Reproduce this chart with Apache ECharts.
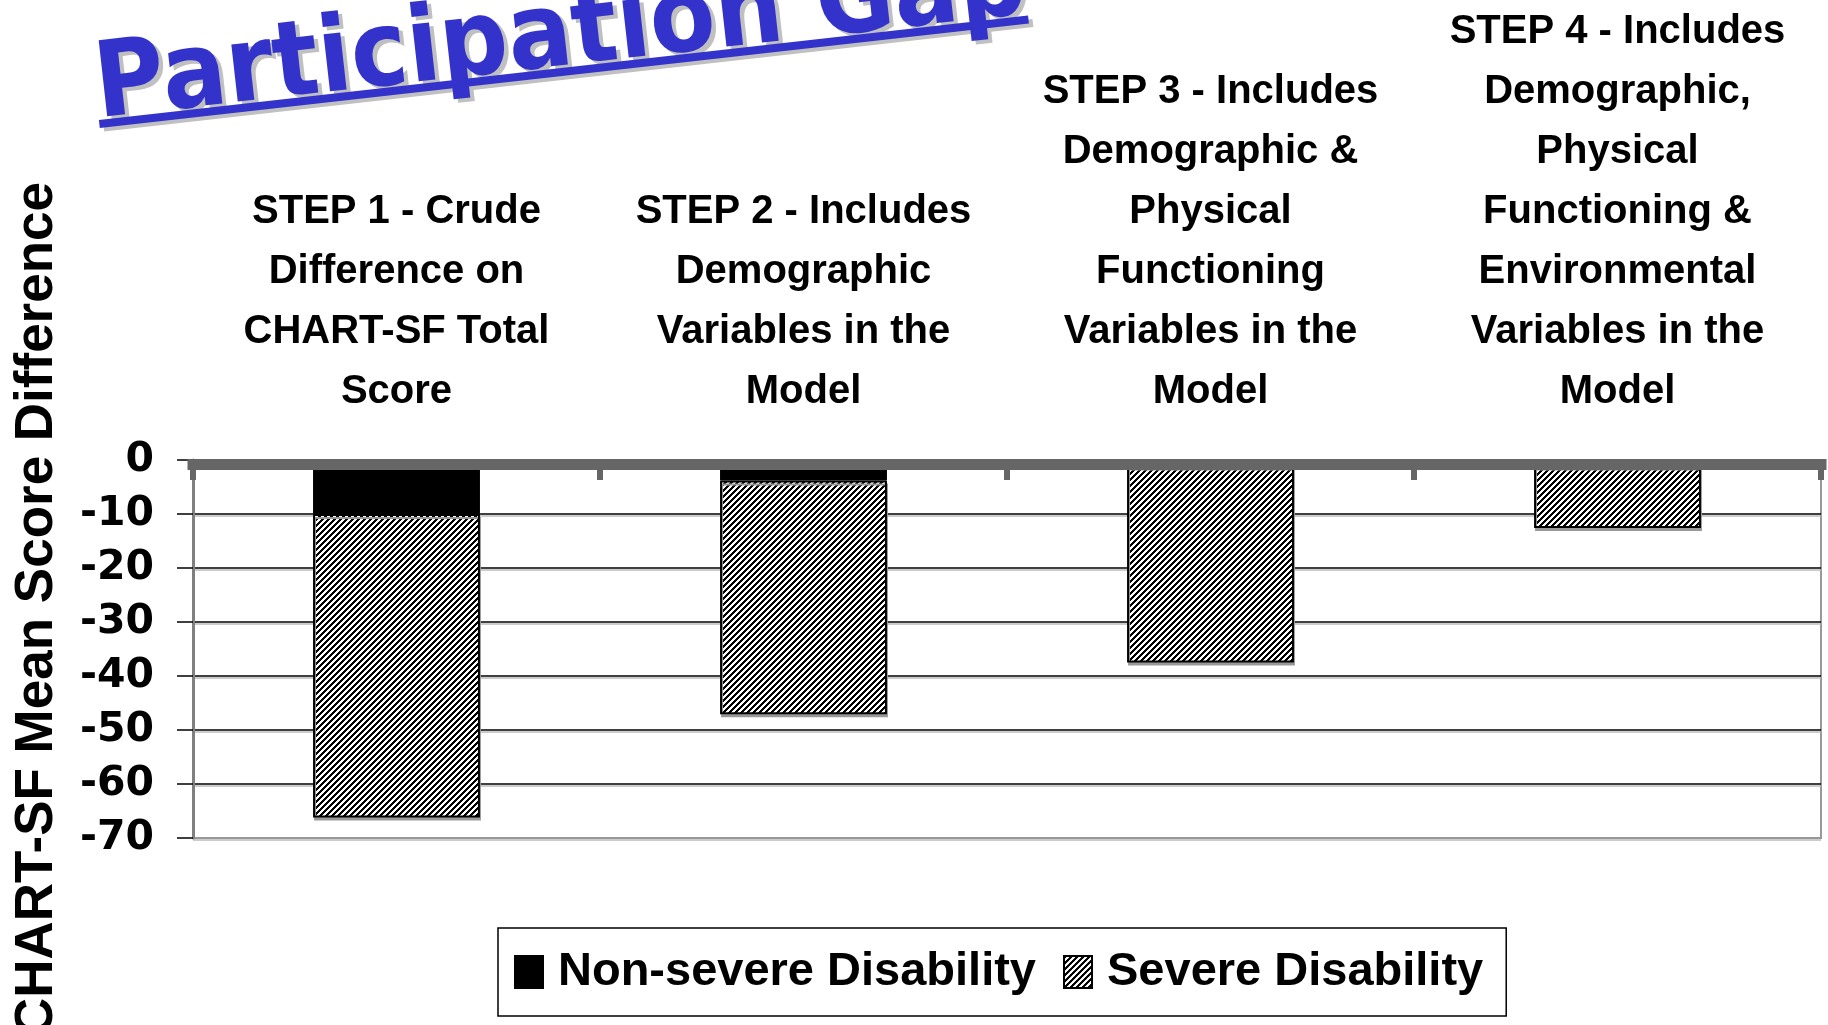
<!DOCTYPE html>
<html>
<head>
<meta charset="utf-8">
<title>Participation Gap</title>
<script src="https://cdn.jsdelivr.net/npm/echarts@6/dist/echarts.min.js"></script>
<style>
  html, body { margin: 0; padding: 0; background: #fff; }
  #chart { width: 1828px; height: 1025px; }
</style>
</head>
<body>
<div id="chart"></div>
<script>
// data
var categories = [
  'STEP 1 - Crude\nDifference on\nCHART-SF Total\nScore',
  'STEP 2 - Includes\nDemographic\nVariables in the\nModel',
  'STEP 3 - Includes\nDemographic &\nPhysical\nFunctioning\nVariables in the\nModel',
  'STEP 4 - Includes\nDemographic,\nPhysical\nFunctioning &\nEnvironmental\nVariables in the\nModel'
];
var nonSevere = [-10, -3.8, -1, -1];
var severe = [-56.2, -43.3, -36.5, -11.6];
var yMin = -70, yMax = 0, yStep = 10;

var arial = '"Liberation Sans", Arial, sans-serif';

// diagonal hatch like the old excel fill
function makeHatch() {
  var n = 6;
  var c = document.createElement('canvas');
  c.width = n; c.height = n;
  var ctx = c.getContext('2d');
  ctx.fillStyle = '#fff';
  ctx.fillRect(0, 0, n, n);
  ctx.fillStyle = '#000';
  for (var x = 0; x < n; x++) {
    for (var y = 0; y < n; y++) {
      if ((x + y) % n < 3) ctx.fillRect(x, y, 1, 1);
    }
  }
  return { image: c, repeat: 'repeat' };
}
var hatch = makeHatch();

var chart = echarts.init(document.getElementById('chart'));
chart.setOption({
  animation: false,
  backgroundColor: '#fff',
  grid: {
    left: 193, right: 7, top: 460, bottom: 187,
    show: true, borderColor: '#999', borderWidth: 2
  },
  legend: {
    left: 498, top: 928,
    padding: [12, 23, 12, 16],
    icon: 'rect',
    itemWidth: 28, itemHeight: 32, itemGap: 27,
    borderColor: '#000', borderWidth: 1.5,
    backgroundColor: '#fff',
    textStyle: { fontFamily: arial, fontWeight: 'bold', fontSize: 47, lineHeight: 64, color: '#000', padding: [0, 0, 0, 10] },
    data: ['Non-severe Disability', 'Severe Disability']
  },
  xAxis: {
    type: 'category',
    position: 'top',
    offset: -4,
    z: 5,
    data: categories,
    axisLine: { lineStyle: { color: '#666', width: 11, cap: 'square' } },
    axisTick: { show: true, inside: true, length: 16, lineStyle: { color: '#666', width: 6 } },
    axisLabel: {
      interval: 0, margin: 42,
      fontFamily: arial, fontWeight: 'bold', fontSize: 40, lineHeight: 60,
      color: '#000', align: 'center'
    }
  },
  yAxis: {
    type: 'value',
    min: yMin, max: yMax, interval: yStep,
    axisLine: { show: true, lineStyle: { color: '#808080', width: 3 } },
    axisTick: { show: true, length: 16, lineStyle: { color: '#000', width: 1.5 } },
    axisLabel: { margin: 39, fontFamily: '"DejaVu Sans"', fontWeight: 'bold', fontSize: 41, color: '#000' },
    splitLine: {
      lineStyle: {
        color: ['#999', '#000', '#000', '#000', '#000', '#000', '#000', '#000'], width: 1.5,
        shadowColor: '#bbb', shadowOffsetY: 2, shadowBlur: 0
      }
    }
  },
  series: [
    {
      name: 'Non-severe Disability',
      type: 'bar',
      stack: 'gap',
      barWidth: '41%',
      data: nonSevere,
      itemStyle: { color: '#000', borderColor: '#000', borderWidth: 1 }
    },
    {
      name: 'Severe Disability',
      type: 'bar',
      stack: 'gap',
      barWidth: '41%',
      data: severe,
      itemStyle: {
        color: hatch, borderColor: '#000', borderWidth: 2,
        shadowColor: '#999', shadowOffsetX: 1, shadowOffsetY: 3, shadowBlur: 0
      }
    }
  ],
  graphic: [
    {
      type: 'group',
      x: 98, y: 112,
      rotation: 0.112,
      children: [
        { type: 'text', x: 4, y: -18, scaleX: 0.91, style: { text: 'Participation Gap', font: 'bold 105px "DejaVu Sans"', fill: '#c0c0c0', verticalAlign: 'middle' } },
        { type: 'rect', shape: { x: 4, y: 12, width: 935, height: 8 }, style: { fill: '#c0c0c0' } },
        { type: 'text', x: 0, y: -22, scaleX: 0.91, style: { text: 'Participation Gap', font: 'bold 105px "DejaVu Sans"', fill: '#3333cc', verticalAlign: 'middle' } },
        { type: 'rect', shape: { x: 0, y: 8, width: 935, height: 8 }, style: { fill: '#3333cc' } }
      ]
    },
    {
      type: 'text',
      x: 37, y: 609,
      rotation: Math.PI / 2,
      style: {
        text: 'CHART-SF Mean Score Difference',
        font: 'bold 53px "Liberation Sans"',
        fill: '#000', align: 'center', verticalAlign: 'middle'
      }
    }
  ]
});
</script>
</body>
</html>
